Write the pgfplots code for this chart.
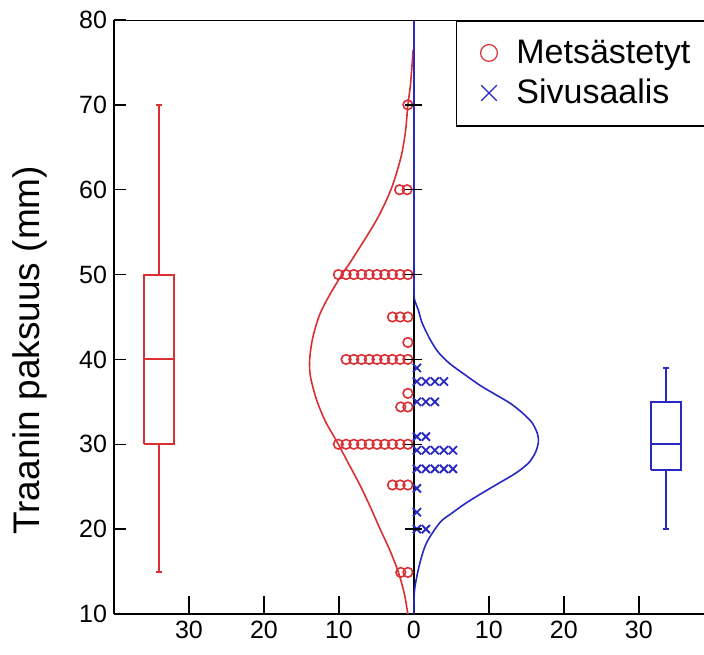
\documentclass[border=0pt]{standalone}
\usepackage{fontspec}
\setmainfont{Liberation Sans}
\usepackage{pgfplots}
\pgfplotsset{compat=1.18}
\definecolor{cred}{RGB}{218,48,52}
\definecolor{cblue}{RGB}{40,40,195}

\begin{document}
\begin{tikzpicture}
\begin{axis}[
  scale only axis, width=295pt, height=297pt,
  xmin=-40, xmax=38.7, ymin=10, ymax=80,
  axis x line*=bottom, axis y line*=left,
  axis line style={-, line width=0.75pt},
  xtick={-30,-20,-10,0,10,20,30},
  xticklabels={30,20,10,0,10,20,30},
  ytick={10,20,...,80},
  tick align=inside,
  major tick style={black, line width=0.75pt},
  xtick style={/pgfplots/major tick length=9pt},
  ytick style={/pgfplots/major tick length=6pt},
  tick label style={font=\fontsize{12.5}{14}\selectfont},
  /pgf/number format/assume math mode=true,
  ylabel={Traanin paksuus (mm)},
  ylabel style={font=\fontsize{18.5}{22}\selectfont, at={(axis description cs:-0.142,0.444)}, anchor=center},
  legend style={at={(axis cs:5.6,80)}, anchor=north west, draw=black, line width=0.75pt,
    font=\fontsize{17}{20}\selectfont, inner xsep=12pt, inner ysep=8pt, row sep=3.5pt,
    column sep=7.5pt, nodes={inner ysep=1.5pt}, cells={anchor=west}},
]

% Metsastetyt
\addplot[only marks, mark=o, cred, mark size=2.4pt, line width=0.8pt,
  legend image post style={mark size=4.2pt, line width=0.6pt}] table {
x y
-0.8 70
-0.9 60
-1.9 60
-0.8 50
-1.83 50
-2.86 50
-3.89 50
-4.92 50
-5.95 50
-6.98 50
-8.01 50
-9.04 50
-10.07 50
-0.8 45
-1.83 45
-2.86 45
-0.8 42
-0.8 40
-1.83 40
-2.86 40
-3.89 40
-4.92 40
-5.95 40
-6.98 40
-8.01 40
-9.04 40
-0.8 36
-0.8 34.4
-1.75 34.4
-0.8 30
-1.83 30
-2.86 30
-3.89 30
-4.92 30
-5.95 30
-6.98 30
-8.01 30
-9.04 30
-10.07 30
-0.8 25.2
-1.83 25.2
-2.86 25.2
-0.8 14.9
-1.75 14.9
};
\addlegendentry{Mets\"astetyt\hspace{12pt}}

% Sivusaalis
\addplot[only marks, mark=x, cblue, mark size=2.9pt, line width=0.9pt,
  legend image post style={mark size=5.5pt, line width=0.6pt}] table {
x y
0.4 39
0.4 37.4
1.6 37.4
2.8 37.4
4.0 37.4
0.4 35
1.6 35
2.8 35
0.4 30.9
1.6 30.9
0.4 29.3
1.6 29.3
2.8 29.3
4.0 29.3
5.2 29.3
0.4 27.1
1.6 27.1
2.8 27.1
4.0 27.1
5.2 27.1
0.4 24.8
0.4 22
0.4 20
1.6 20
};
\addlegendentry{Sivusaalis}

% center line and ticks
\addplot[black, line width=0.75pt, forget plot] coordinates {(0,10) (0,80)};
\addplot[black, only marks, mark=-, mark size=4.2pt, line width=0.75pt, forget plot]
  coordinates {(0,20) (0,30) (0,40) (0,50) (0,60) (0,70)};

% density curves
\addplot[cred, line width=0.8pt, smooth, forget plot] coordinates {
(-0.1,76.5) (-0.3,74) (-0.5,72) (-0.8,70) (-1.1,67) (-1.6,64.3) (-2.3,62)
(-3.2,59.7) (-5,56.4) (-8.3,51.7) (-9.6,50) (-11.3,47.5) (-12.6,45.2)
(-13.5,42.5) (-13.9,40) (-13.8,38) (-13,35.3) (-11.8,32.7) (-10.2,30.2)
(-8.7,27.7) (-7.2,25.2) (-5.8,22.6) (-4.5,20) (-3.2,17.5) (-2.1,15)
(-1.3,12.5) (-0.8,10)};
\addplot[cblue, line width=0.8pt, forget plot] coordinates {(0,80) (0,48)};
\addplot[cblue, line width=0.8pt, smooth, forget plot] coordinates {
(0,48) (0.1,47) (0.6,45.8) (1.1,44.3) (2.2,42.3) (3.3,40.8) (4.8,39.5)
(6.8,38.2) (8.9,36.9) (11,35.8) (12.9,34.8) (14.6,33.6) (15.8,32.5)
(16.5,31.2) (16.6,30.2) (16.2,29) (15.3,27.8) (13.6,26.6) (11.5,25.5)
(9.2,24.3) (7.0,23.1) (5.1,21.9) (3.5,20.8) (1.7,18.4) (0.8,16) (0.1,12.9) (0,10)};

% box plots: box, median, whiskers, caps
\pgfplotsset{boxline/.style={line width=0.95pt, forget plot}}
\addplot[cred, boxline] coordinates {(-36,30) (-32,30) (-32,50) (-36,50) (-36,30)};
\addplot[cred, boxline] coordinates {(-36,40) (-32,40)};
\addplot[cred, boxline] coordinates {(-34,15) (-34,30)};
\addplot[cred, boxline] coordinates {(-34,50) (-34,70)};
\addplot[cred, boxline] coordinates {(-34.4,15) (-33.6,15)};
\addplot[cred, boxline] coordinates {(-34.4,70) (-33.6,70)};

\addplot[cblue, boxline] coordinates {(31.6,27) (35.6,27) (35.6,35) (31.6,35) (31.6,27)};
\addplot[cblue, boxline] coordinates {(31.6,30) (35.6,30)};
\addplot[cblue, boxline] coordinates {(33.6,20) (33.6,27)};
\addplot[cblue, boxline] coordinates {(33.6,35) (33.6,39)};
\addplot[cblue, boxline] coordinates {(33.2,20) (34.0,20)};
\addplot[cblue, boxline] coordinates {(33.2,39) (34.0,39)};

\draw[line width=0.75pt] (rel axis cs:0,1) -- (rel axis cs:1,1);
\end{axis}
\pgfresetboundingbox
\path ([xshift=-57pt,yshift=-20.5pt]current axis.south west) rectangle ([yshift=10pt]current axis.north east);
\end{tikzpicture}
\end{document}
